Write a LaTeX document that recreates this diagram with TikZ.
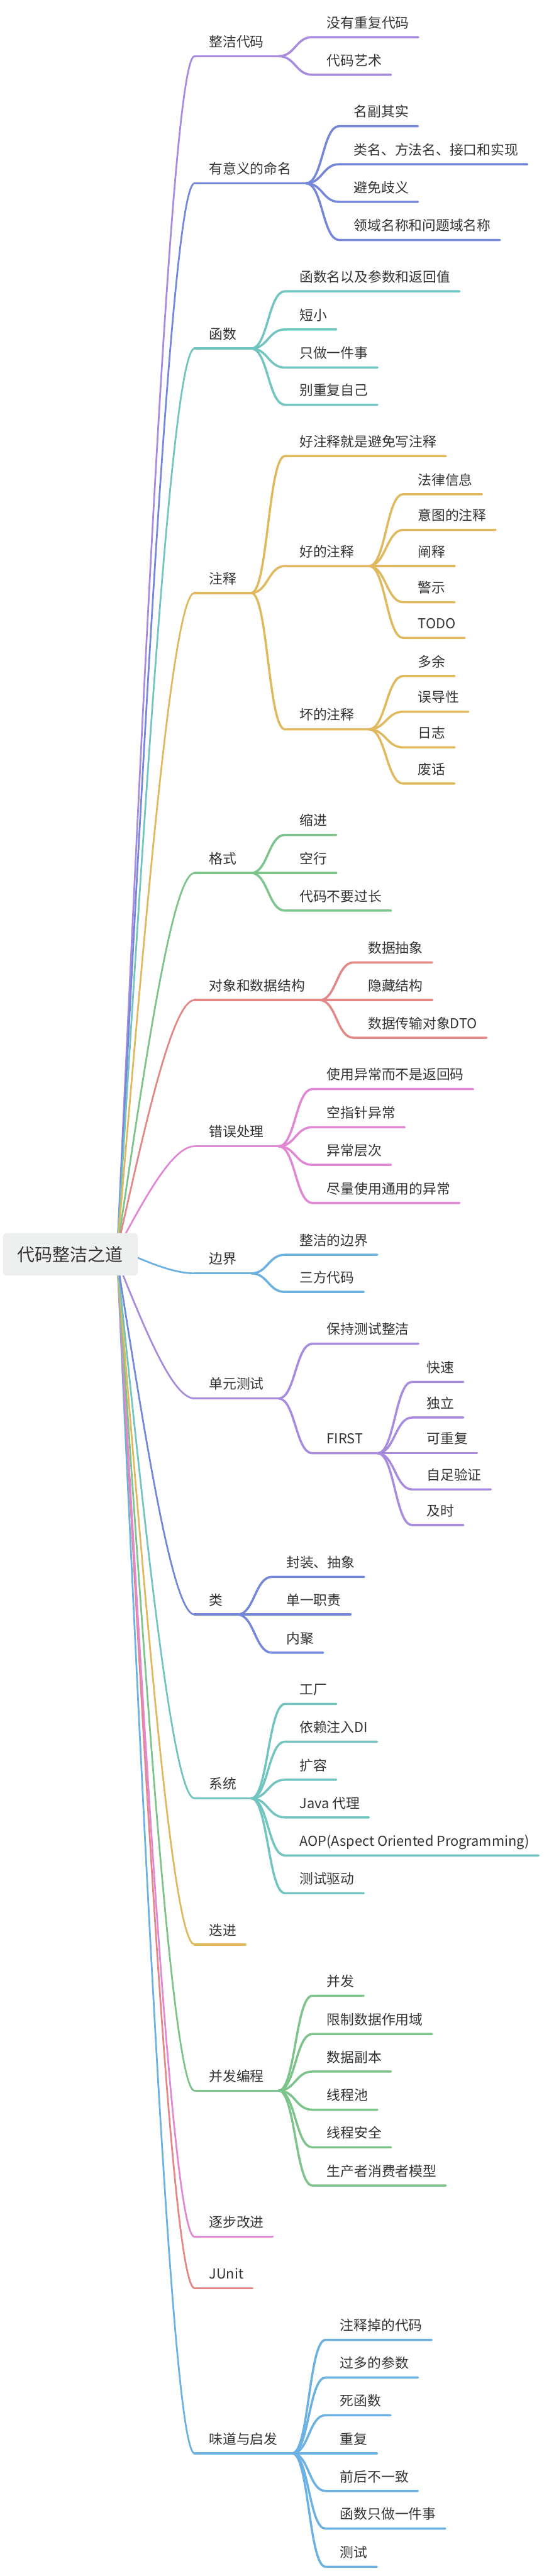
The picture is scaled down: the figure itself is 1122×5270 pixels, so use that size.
\documentclass[tikz,border=0pt]{standalone}
\usepackage{fontspec}
\setmainfont{Noto Sans CJK SC}
\usepackage{tikz}
\usetikzlibrary{calc}
\definecolor{lilac}{RGB}{167,139,223}
\definecolor{cornflower}{RGB}{117,135,218}
\definecolor{aqua}{RGB}{114,196,192}
\definecolor{mustard}{RGB}{224,185,94}
\definecolor{mint}{RGB}{124,196,139}
\definecolor{coral}{RGB}{227,136,135}
\definecolor{orchid}{RGB}{226,135,212}
\definecolor{sky}{RGB}{107,177,226}
\definecolor{ink}{RGB}{51,51,51}
\definecolor{hubgray}{RGB}{238,239,239}
\tikzstyle{topic}=[fill=hubgray,rounded corners=8pt,inner xsep=30pt,outer sep=0pt,minimum height=87pt,text=ink,font=\fontsize{36}{40}\selectfont]
\tikzstyle{entry}=[anchor=south west,inner xsep=30pt,inner ysep=19pt,outer sep=0pt,text depth=0pt,text=ink,font=\fontsize{28}{32}\selectfont]

\begin{document}
\begin{tikzpicture}[x=1pt,y=-1pt,line cap=round,
trunk/.style={line width=3.5pt,to path={.. controls ($(\tikztostart)!0.5!(\tikztotarget)+(-22,0)$) and ($(\tikztotarget)+(-45,0)$) .. (\tikztotarget)}},
bough/.style={line width=4.5pt},
twig/.style={line width=4.5pt,to path={.. controls +(34,0) and +(-34,0) .. (\tikztotarget)}}]
\fill[white] (0,0) rectangle (1122,5270);
\coordinate (hubtop) at (240,2555);
\coordinate (hubbot) at (240,2580);

\node[entry] (clean) at (398,115) {整洁代码};
\node[entry] (naming) at (398,375) {有意义的命名};
\node[entry] (func) at (398,713) {函数};
\node[entry] (comment) at (398,1213) {注释};
\node[entry] (format) at (398,1786) {格式};
\node[entry] (object) at (398,2046) {对象和数据结构};
\node[entry] (error) at (398,2345) {错误处理};
\node[entry] (bound) at (398,2605) {边界};
\node[entry] (unit) at (398,2861) {单元测试};
\node[entry] (class) at (398,3303) {类};
\node[entry] (system) at (398,3679) {系统};
\node[entry] (emerge) at (398,3978) {迭进};
\node[entry] (concur) at (398,4277) {并发编程};
\node[entry] (refine) at (398,4576) {逐步改进};
\node[entry] (junit) at (398,4681) {JUnit};
\node[entry] (smell) at (398,5019) {味道与启发};

\node[entry] (clean1) at (639,76) {没有重复代码};
\node[entry] (clean2) at (639,153) {代码艺术};

\node[entry] (naming1) at (694,258) {名副其实};
\node[entry] (naming2) at (694,336) {类名、方法名、接口和实现};
\node[entry] (naming3) at (694,413) {避免歧义};
\node[entry] (naming4) at (694,491) {领域名称和问题域名称};

\node[entry] (func1) at (583,596) {函数名以及参数和返回值};
\node[entry] (func2) at (583,674) {短小};
\node[entry] (func3) at (583,752) {只做一件事};
\node[entry] (func4) at (583,828) {别重复自己};

\node[entry] (comment1) at (583,933) {好注释就是避免写注释};
\node[entry] (goodc) at (583,1158) {好的注释};
\node[entry] (badc) at (583,1492) {坏的注释};
\node[entry] (goodc1) at (825,1011) {法律信息};
\node[entry] (goodc2) at (825,1084) {意图的注释};
\node[entry] (goodc3) at (825,1158) {阐释};
\node[entry] (goodc4) at (825,1232) {警示};
\node[entry] (goodc5) at (825,1305) {TODO};
\node[entry] (badc1) at (825,1383) {多余};
\node[entry] (badc2) at (825,1456) {误导性};
\node[entry] (badc3) at (825,1529) {日志};
\node[entry] (badc4) at (825,1603) {废话};

\node[entry] (format1) at (583,1708) {缩进};
\node[entry] (format2) at (583,1786) {空行};
\node[entry] (format3) at (583,1863) {代码不要过长};

\node[entry] (object1) at (723,1969) {数据抽象};
\node[entry] (object2) at (723,2046) {隐藏结构};
\node[entry] (object3) at (723,2123) {数据传输对象DTO};

\node[entry] (error1) at (639,2228) {使用异常而不是返回码};
\node[entry] (error2) at (639,2306) {空指针异常};
\node[entry] (error3) at (639,2383) {异常层次};
\node[entry] (error4) at (639,2461) {尽量使用通用的异常};

\node[entry] (bound1) at (583,2567) {整洁的边界};
\node[entry] (bound2) at (583,2643) {三方代码};

\node[entry] (unit1) at (639,2749) {保持测试整洁};
\node[entry] (first) at (639,2973) {FIRST};
\node[entry] (first1) at (843,2827) {快速};
\node[entry] (first2) at (843,2900) {独立};
\node[entry] (first3) at (843,2973) {可重复};
\node[entry] (first4) at (843,3047) {自足验证};
\node[entry] (first5) at (843,3120) {及时};

\node[entry] (class1) at (556,3226) {封装、抽象};
\node[entry] (class2) at (556,3303) {单一职责};
\node[entry] (class3) at (556,3381) {内聚};

\node[entry] (system1) at (583,3486) {工厂};
\node[entry] (system2) at (583,3563) {依赖注入DI};
\node[entry] (system3) at (583,3641) {扩容};
\node[entry] (system4) at (583,3718) {Java 代理};
\node[entry] (system5) at (583,3796) {AOP(Aspect Oriented Programming)};
\node[entry] (system6) at (583,3873) {测试驱动};

\node[entry] (concur1) at (639,4083) {并发};
\node[entry] (concur2) at (639,4161) {限制数据作用域};
\node[entry] (concur3) at (639,4238) {数据副本};
\node[entry] (concur4) at (639,4316) {线程池};
\node[entry] (concur5) at (639,4393) {线程安全};
\node[entry] (concur6) at (639,4471) {生产者消费者模型};

\node[entry] (smell1) at (666,4787) {注释掉的代码};
\node[entry] (smell2) at (666,4864) {过多的参数};
\node[entry] (smell3) at (666,4941) {死函数};
\node[entry] (smell4) at (666,5019) {重复};
\node[entry] (smell5) at (666,5096) {前后不一致};
\node[entry] (smell6) at (666,5173) {函数只做一件事};
\node[entry] (smell7) at (666,5251) {测试};

\draw[trunk,lilac] (hubtop) to (clean.south west);
\draw[trunk,cornflower] (hubtop) to (naming.south west);
\draw[trunk,aqua] (hubtop) to (func.south west);
\draw[trunk,mustard] (hubtop) to (comment.south west);
\draw[trunk,mint] (hubtop) to (format.south west);
\draw[trunk,coral] (hubtop) to (object.south west);
\draw[trunk,orchid] (hubtop) to (error.south west);
\draw[trunk,sky] (hubtop) to (bound.south west);
\draw[trunk,sky] (hubbot) to (smell.south west);
\draw[trunk,coral] (hubbot) to (junit.south west);
\draw[trunk,orchid] (hubbot) to (refine.south west);
\draw[trunk,mint] (hubbot) to (concur.south west);
\draw[trunk,mustard] (hubbot) to (emerge.south west);
\draw[trunk,aqua] (hubbot) to (system.south west);
\draw[trunk,cornflower] (hubbot) to (class.south west);
\draw[trunk,lilac] (hubbot) to (unit.south west);

\draw[bough,lilac] (clean.south west) -- (clean.south east);
\draw[bough,cornflower] (naming.south west) -- (naming.south east);
\draw[bough,aqua] (func.south west) -- (func.south east);
\draw[bough,mustard] (comment.south west) -- (comment.south east);
\draw[bough,mint] (format.south west) -- (format.south east);
\draw[bough,coral] (object.south west) -- (object.south east);
\draw[bough,orchid] (error.south west) -- (error.south east);
\draw[bough,sky] (bound.south west) -- (bound.south east);
\draw[bough,lilac] (unit.south west) -- (unit.south east);
\draw[bough,cornflower] (class.south west) -- (class.south east);
\draw[bough,aqua] (system.south west) -- (system.south east);
\draw[bough,mustard] (emerge.south west) -- ([xshift=-12pt]emerge.south east);
\draw[bough,mint] (concur.south west) -- (concur.south east);
\draw[bough,orchid] (refine.south west) -- ([xshift=-12pt]refine.south east);
\draw[bough,coral] (junit.south west) -- ([xshift=-12pt]junit.south east);
\draw[bough,sky] (smell.south west) -- (smell.south east);

\draw[twig,lilac] (clean.south east) to (clean1.south west) -- ([xshift=-11pt]clean1.south east);
\draw[twig,lilac] (clean.south east) to (clean2.south west) -- ([xshift=-11pt]clean2.south east);

\draw[twig,cornflower] (naming.south east) to (naming1.south west) -- ([xshift=-11pt]naming1.south east);
\draw[twig,cornflower] (naming.south east) to (naming2.south west) -- ([xshift=-11pt]naming2.south east);
\draw[twig,cornflower] (naming.south east) to (naming3.south west) -- ([xshift=-11pt]naming3.south east);
\draw[twig,cornflower] (naming.south east) to (naming4.south west) -- ([xshift=-11pt]naming4.south east);

\draw[twig,aqua] (func.south east) to (func1.south west) -- ([xshift=-11pt]func1.south east);
\draw[twig,aqua] (func.south east) to (func2.south west) -- ([xshift=-11pt]func2.south east);
\draw[twig,aqua] (func.south east) to (func3.south west) -- ([xshift=-11pt]func3.south east);
\draw[twig,aqua] (func.south east) to (func4.south west) -- ([xshift=-11pt]func4.south east);

\draw[twig,mustard] (comment.south east) to (comment1.south west) -- ([xshift=-11pt]comment1.south east);
\draw[twig,mustard] (comment.south east) to (goodc.south west) -- (goodc.south east);
\draw[twig,mustard] (comment.south east) to (badc.south west) -- (badc.south east);
\draw[twig,mustard] (goodc.south east) to (goodc1.south west) -- ([xshift=-11pt]goodc1.south east);
\draw[twig,mustard] (goodc.south east) to (goodc2.south west) -- ([xshift=-11pt]goodc2.south east);
\draw[twig,mustard] (goodc.south east) to (goodc3.south west) -- ([xshift=-11pt]goodc3.south east);
\draw[twig,mustard] (goodc.south east) to (goodc4.south west) -- ([xshift=-11pt]goodc4.south east);
\draw[twig,mustard] (goodc.south east) to (goodc5.south west) -- ([xshift=-11pt]goodc5.south east);
\draw[twig,mustard] (badc.south east) to (badc1.south west) -- ([xshift=-11pt]badc1.south east);
\draw[twig,mustard] (badc.south east) to (badc2.south west) -- ([xshift=-11pt]badc2.south east);
\draw[twig,mustard] (badc.south east) to (badc3.south west) -- ([xshift=-11pt]badc3.south east);
\draw[twig,mustard] (badc.south east) to (badc4.south west) -- ([xshift=-11pt]badc4.south east);

\draw[twig,mint] (format.south east) to (format1.south west) -- ([xshift=-11pt]format1.south east);
\draw[twig,mint] (format.south east) to (format2.south west) -- ([xshift=-11pt]format2.south east);
\draw[twig,mint] (format.south east) to (format3.south west) -- ([xshift=-11pt]format3.south east);

\draw[twig,coral] (object.south east) to (object1.south west) -- ([xshift=-11pt]object1.south east);
\draw[twig,coral] (object.south east) to (object2.south west) -- ([xshift=-11pt]object2.south east);
\draw[twig,coral] (object.south east) to (object3.south west) -- ([xshift=-11pt]object3.south east);

\draw[twig,orchid] (error.south east) to (error1.south west) -- ([xshift=-11pt]error1.south east);
\draw[twig,orchid] (error.south east) to (error2.south west) -- ([xshift=-11pt]error2.south east);
\draw[twig,orchid] (error.south east) to (error3.south west) -- ([xshift=-11pt]error3.south east);
\draw[twig,orchid] (error.south east) to (error4.south west) -- ([xshift=-11pt]error4.south east);

\draw[twig,sky] (bound.south east) to (bound1.south west) -- ([xshift=-11pt]bound1.south east);
\draw[twig,sky] (bound.south east) to (bound2.south west) -- ([xshift=-11pt]bound2.south east);

\draw[twig,lilac] (unit.south east) to (unit1.south west) -- ([xshift=-11pt]unit1.south east);
\draw[twig,lilac] (unit.south east) to (first.south west) -- (first.south east);
\draw[twig,lilac] (first.south east) to (first1.south west) -- ([xshift=-11pt]first1.south east);
\draw[twig,lilac] (first.south east) to (first2.south west) -- ([xshift=-11pt]first2.south east);
\draw[twig,lilac] (first.south east) to (first3.south west) -- ([xshift=-11pt]first3.south east);
\draw[twig,lilac] (first.south east) to (first4.south west) -- ([xshift=-11pt]first4.south east);
\draw[twig,lilac] (first.south east) to (first5.south west) -- ([xshift=-11pt]first5.south east);

\draw[twig,cornflower] (class.south east) to (class1.south west) -- ([xshift=-11pt]class1.south east);
\draw[twig,cornflower] (class.south east) to (class2.south west) -- ([xshift=-11pt]class2.south east);
\draw[twig,cornflower] (class.south east) to (class3.south west) -- ([xshift=-11pt]class3.south east);

\draw[twig,aqua] (system.south east) to (system1.south west) -- ([xshift=-11pt]system1.south east);
\draw[twig,aqua] (system.south east) to (system2.south west) -- ([xshift=-11pt]system2.south east);
\draw[twig,aqua] (system.south east) to (system3.south west) -- ([xshift=-11pt]system3.south east);
\draw[twig,aqua] (system.south east) to (system4.south west) -- ([xshift=-11pt]system4.south east);
\draw[twig,aqua] (system.south east) to (system5.south west) -- ([xshift=-11pt]system5.south east);
\draw[twig,aqua] (system.south east) to (system6.south west) -- ([xshift=-11pt]system6.south east);

\draw[twig,mint] (concur.south east) to (concur1.south west) -- ([xshift=-11pt]concur1.south east);
\draw[twig,mint] (concur.south east) to (concur2.south west) -- ([xshift=-11pt]concur2.south east);
\draw[twig,mint] (concur.south east) to (concur3.south west) -- ([xshift=-11pt]concur3.south east);
\draw[twig,mint] (concur.south east) to (concur4.south west) -- ([xshift=-11pt]concur4.south east);
\draw[twig,mint] (concur.south east) to (concur5.south west) -- ([xshift=-11pt]concur5.south east);
\draw[twig,mint] (concur.south east) to (concur6.south west) -- ([xshift=-11pt]concur6.south east);

\draw[twig,sky] (smell.south east) to (smell1.south west) -- ([xshift=-11pt]smell1.south east);
\draw[twig,sky] (smell.south east) to (smell2.south west) -- ([xshift=-11pt]smell2.south east);
\draw[twig,sky] (smell.south east) to (smell3.south west) -- ([xshift=-11pt]smell3.south east);
\draw[twig,sky] (smell.south east) to (smell4.south west) -- ([xshift=-11pt]smell4.south east);
\draw[twig,sky] (smell.south east) to (smell5.south west) -- ([xshift=-11pt]smell5.south east);
\draw[twig,sky] (smell.south east) to (smell6.south west) -- ([xshift=-11pt]smell6.south east);
\draw[twig,sky] (smell.south east) to (smell7.south west) -- ([xshift=-11pt]smell7.south east);

\node[topic] (root) at (144,2566) {代码整洁之道};
\end{tikzpicture}
\end{document}
